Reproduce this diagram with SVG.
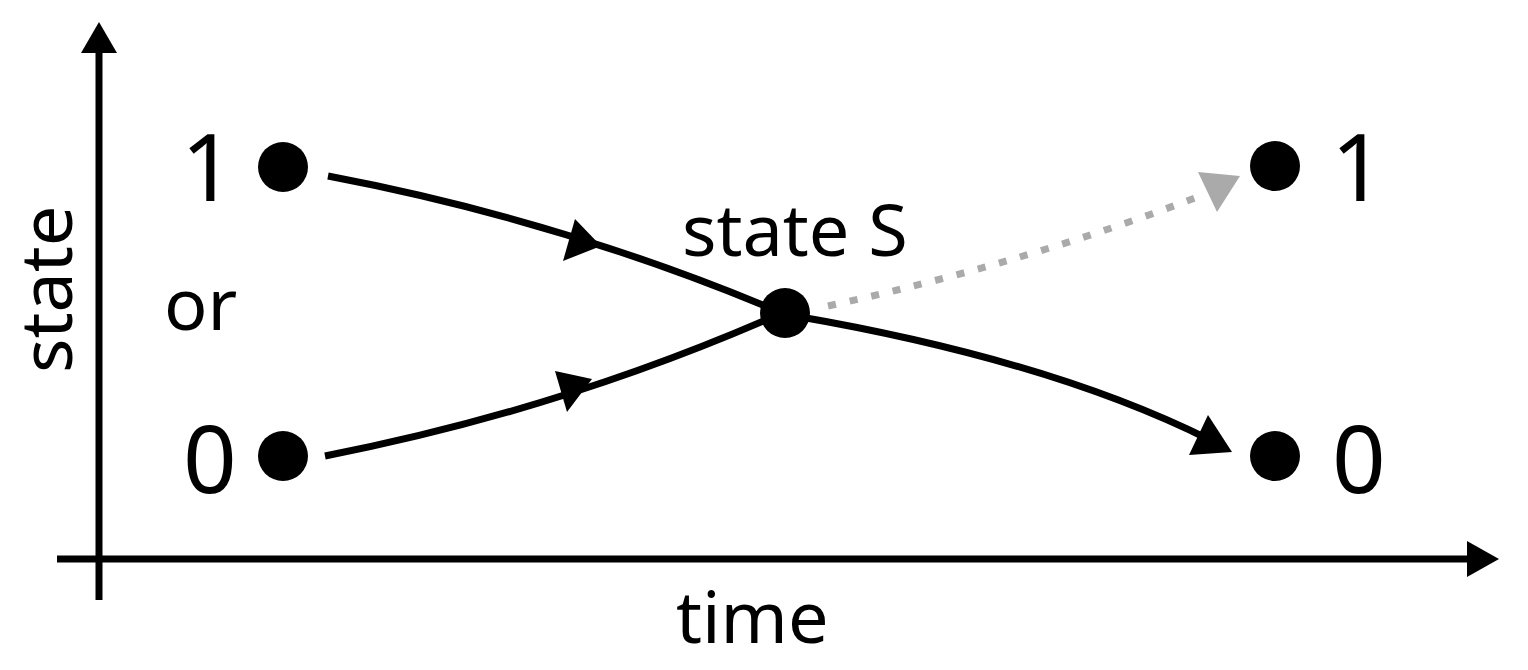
<svg xmlns="http://www.w3.org/2000/svg" width="1528" height="670" viewBox="0 0 1528 670">
<style>
.t{font-family:"Noto Sans","Open Sans",sans-serif;fill:#000}
.big{font-size:94px}
.mid{font-size:72px}
.ln{fill:none;stroke:#000;stroke-width:7}
.dot{fill:#000}
</style>
<rect width="1528" height="670" fill="#fff"/>
<g id="axes">
<line class="ln" x1="99" y1="600" x2="99" y2="50"/>
<polygon points="99,22 81,53 117,53"/>
<line class="ln" x1="57" y1="559" x2="1470" y2="559"/>
<polygon points="1499,559 1467,541 1467,577"/>
</g>
<g id="node-1-left"><circle class="dot" cx="283" cy="167" r="25"/><text class="t big" x="181" y="201">1</text></g>
<g id="node-0-left"><circle class="dot" cx="283" cy="456" r="25"/><text class="t big" x="183" y="493">0</text></g>
<g id="node-S"><circle class="dot" cx="785" cy="313" r="25"/><text class="t mid" x="682" y="256">state S</text></g>
<g id="node-1-right"><circle class="dot" cx="1275" cy="166" r="25"/><text class="t big" x="1331" y="201">1</text></g>
<g id="node-0-right"><circle class="dot" cx="1275" cy="456" r="25"/><text class="t big" x="1332" y="493">0</text></g>
<g id="labels">
<text class="t mid" x="164" y="330">or</text>
<text class="t mid" x="676" y="643">time</text>
<text class="t mid" transform="translate(72,373) rotate(-90)">state</text>
</g>
<g id="connectors">
<path class="ln" d="M328,176 Q560,220 775,310"/>
<polygon points="601,246 575,219 563,261"/>
<path class="ln" d="M325,456 Q560,410 775,316"/>
<polygon points="592,379 555,371 567,412"/>
<path class="ln" d="M795,316 Q1050,360 1210,440"/>
<polygon points="1232,452 1208,415 1189,455"/>
<path d="M828,306 Q1030,262 1205,194" fill="none" stroke="#aaa" stroke-width="7" stroke-dasharray="8 14"/>
<polygon points="1240,176 1198,172 1217,212" fill="#aaa"/>
</g>
</svg>
